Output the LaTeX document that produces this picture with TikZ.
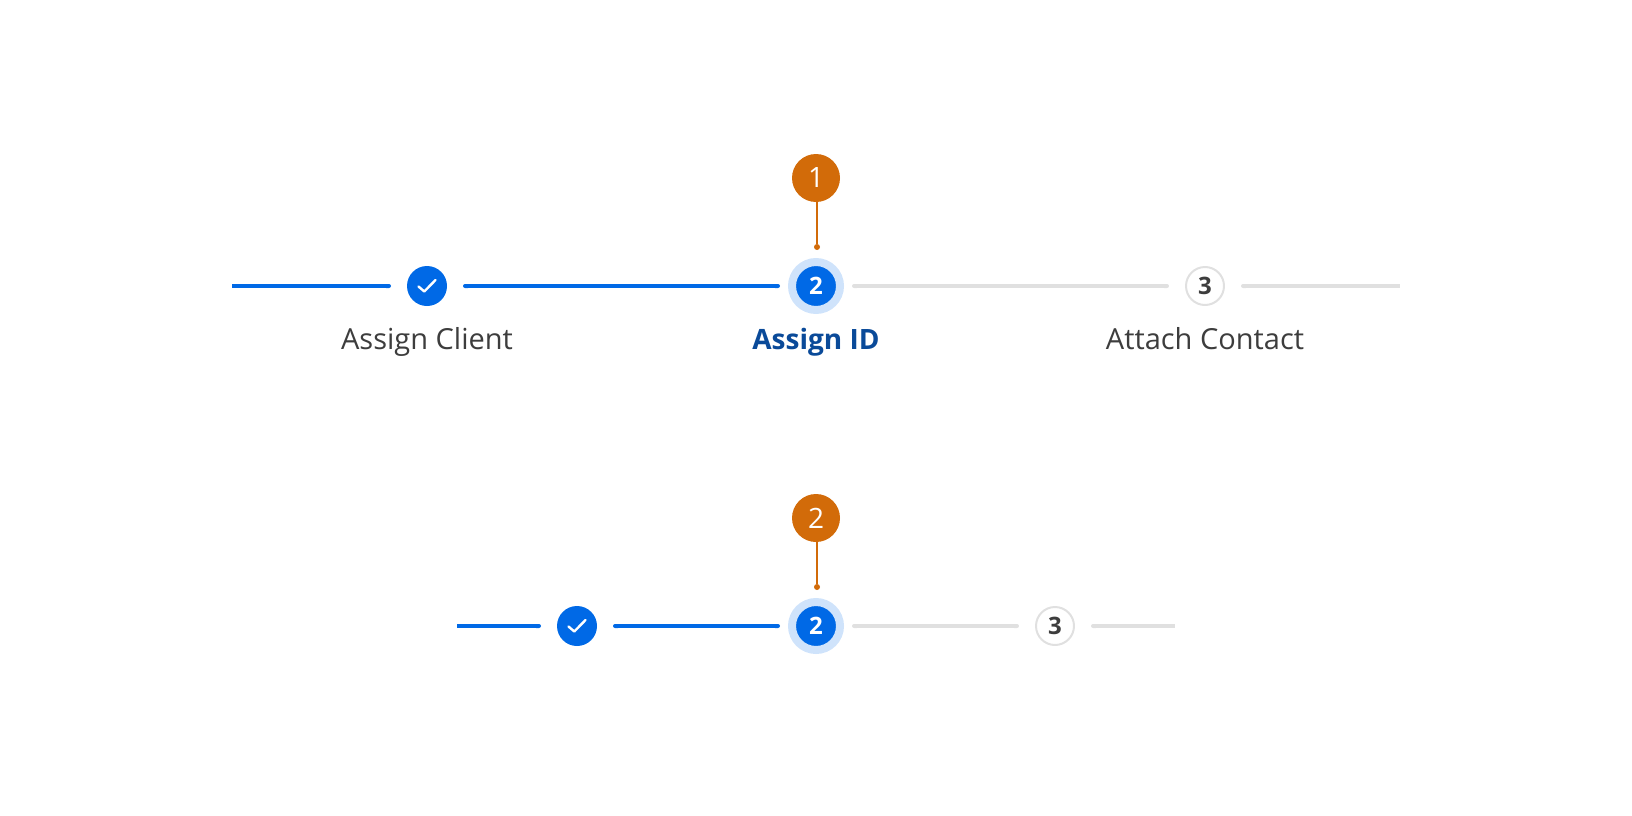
\documentclass[tikz,border=0pt]{standalone}
\usepackage{fontspec}
\setmainfont{Open Sans}
\usetikzlibrary{arrows.meta, positioning}
\definecolor{stepblue}{HTML}{0069E6}
\definecolor{stephalo}{HTML}{CFE3FB}
\definecolor{labelblue}{HTML}{0A4A99}
\definecolor{railgray}{HTML}{E0E0E0}
\definecolor{inktext}{HTML}{3D3D3D}
\definecolor{badgeorange}{HTML}{D26B09}

\begin{document}
\begin{tikzpicture}[
            x=1pt, y=-1pt,
            on grid,
            endtip/.tip={Round Cap[]},
            done/.style={circle, fill=stepblue, inner sep=0pt, minimum size=40pt, outer sep=16pt},
            active/.style={circle, fill=stepblue, draw=stephalo, line width=8pt, inner sep=0pt, minimum size=48pt, outer sep=12pt, text=white, font=\fontsize{24}{28}\selectfont\bfseries},
            todo/.style={circle, fill=white, draw=railgray, line width=2pt, inner sep=0pt, minimum size=38pt, outer sep=17pt, text=inktext, font=\fontsize{24}{28}\selectfont\bfseries},
            badge/.style={circle, fill=badgeorange, inner sep=0pt, minimum size=48pt, text=white, font=\fontsize{28}{32}\selectfont},
            pindot/.style={circle, fill=badgeorange, inner sep=0pt, minimum size=6pt},
            steplabel/.style={inner sep=0pt, text height=21pt, text depth=6pt, text=inktext, font=\fontsize{29}{32}\selectfont},
            pin/.style={draw=badgeorange, line width=2pt},
            tick/.style={draw=white, line width=2.4pt, line cap=round, line join=round},
            railblue/.style={draw=stepblue, line width=4pt},
            railgrey/.style={draw=railgray, line width=4pt}
        ]
            \useasboundingbox (0,0) rectangle (1632,816);
            % upper stepper
            \node[active] (stepb) at (816,286) {2};
            \node[done, left=389pt of stepb] (stepa) {};
            \node[todo, right=389pt of stepb] (stepc) {3};
            \coordinate[left=195pt of stepa] (starta);
            \coordinate[right=195pt of stepc] (endc);
            \node[steplabel, below=55.5pt of stepa] (labela) {Assign Client};
            \node[steplabel, below=55.5pt of stepb, text=labelblue, font=\fontsize{28}{32}\selectfont\bfseries] (labelb) {Assign ID};
            \node[steplabel, below=55.5pt of stepc] (labelc) {Attach Contact};
            \node[badge, above=108pt of stepb] (badgeone) {1};
            \node[pindot, above=39pt of stepb, xshift=1pt] (dotone) {};
            \draw[pin] (dotone |- badgeone.south) -- (dotone);
            \draw[railblue, -{endtip}] (starta) -- (stepa);
            \draw[railblue, {endtip}-{endtip}] (stepa) -- (stepb);
            \draw[railgrey, {endtip}-{endtip}] (stepb) -- (stepc);
            \draw[railgrey, {endtip}-] (stepc) -- (endc);
            \draw[tick] ([shift={(-8.5,0.5)}]stepa.center) -- ([shift={(-2.7,5.5)}]stepa.center) -- ([shift={(8.5,-6)}]stepa.center);
            % lower stepper
            \node[active] (stepe) at (816,626) {2};
            \node[done, left=239pt of stepe] (stepd) {};
            \node[todo, right=239pt of stepe] (stepf) {3};
            \coordinate[left=120pt of stepd] (startd);
            \coordinate[right=120pt of stepf] (endf);
            \node[badge, above=108pt of stepe] (badgetwo) {2};
            \node[pindot, above=39pt of stepe, xshift=1pt] (dottwo) {};
            \draw[pin] (dottwo |- badgetwo.south) -- (dottwo);
            \draw[railblue, -{endtip}] (startd) -- (stepd);
            \draw[railblue, {endtip}-{endtip}] (stepd) -- (stepe);
            \draw[railgrey, {endtip}-{endtip}] (stepe) -- (stepf);
            \draw[railgrey, {endtip}-] (stepf) -- (endf);
            \draw[tick] ([shift={(-8.5,0.5)}]stepd.center) -- ([shift={(-2.7,5.5)}]stepd.center) -- ([shift={(8.5,-6)}]stepd.center);
        \end{tikzpicture}
\end{document}
